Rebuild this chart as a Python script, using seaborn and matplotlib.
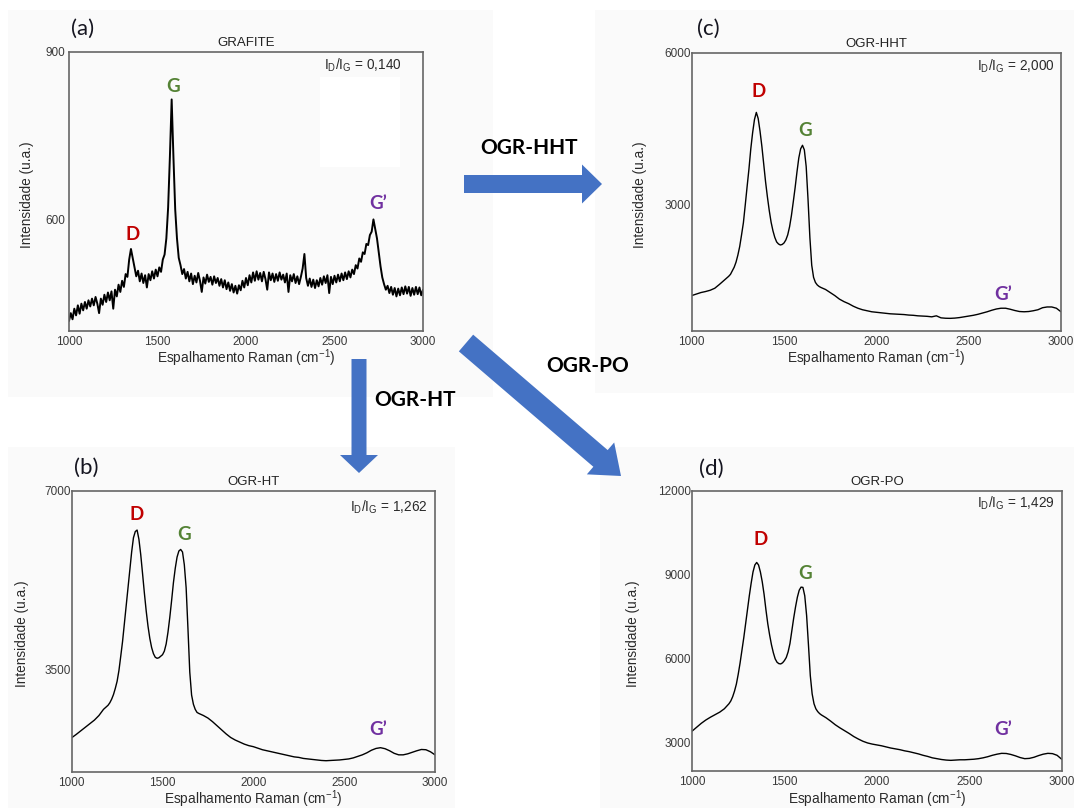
import numpy as np
import pandas as pd
import matplotlib
matplotlib.use("Agg")
import matplotlib.pyplot as plt
from matplotlib.patches import Rectangle, FancyArrow
import seaborn as sns

W, H = 1074, 808

# ---------------------------------------------------------------------------
# Raman shift grids (cm^-1)
shift_grafite = np.arange(1000, 3001, 10)
shift_ogr = np.concatenate([np.arange(1000, 1200, 25),
                            np.arange(1200, 1701, 10),
                            np.arange(1725, 3001, 25)])

# Intensities (u.a.)
int_grafite = [
    418, 432, 421, 440, 428, 446, 431, 449, 437, 452,
    440, 455, 444, 458, 446, 461, 449, 432, 458, 447,
    465, 452, 469, 455, 471, 440, 474, 462, 483, 470,
    490, 479, 502, 497, 528, 547, 531, 514, 498, 508,
    489, 503, 486, 500, 478, 502, 491, 507, 494, 510,
    498, 514, 506, 528, 537, 566, 621, 712, 815, 712,
    618, 566, 531, 518, 502, 511, 494, 506, 489, 503,
    484, 499, 487, 504, 490, 470, 496, 485, 501, 488,
    497, 483, 498, 486, 495, 481, 493, 478, 491, 475,
    487, 472, 484, 469, 481, 467, 482, 473, 490, 478,
    495, 482, 500, 487, 505, 490, 507, 492, 504, 489,
    506, 493, 474, 505, 491, 503, 488, 502, 490, 505,
    492, 501, 487, 503, 470, 500, 489, 502, 486, 498,
    484, 497, 512, 538, 495, 481, 494, 479, 492, 477,
    491, 480, 495, 483, 498, 486, 500, 468, 497, 484,
    499, 487, 501, 489, 503, 491, 505, 493, 507, 496,
    510, 502, 518, 512, 530, 524, 541, 538, 556, 554,
    572, 578, 600, 583, 566, 541, 516, 496, 484, 474,
    481, 468, 479, 465, 477, 462, 476, 464, 478, 466,
    480, 467, 479, 463, 477, 465, 479, 466, 478, 464,
    474,
]

int_ogr_ht = [
    2165, 2230, 2300, 2370, 2440, 2510, 2600, 2720,
    2800, 2850, 2920, 3010, 3130, 3270, 3480, 3760, 4050, 4400,
    4750, 5100, 5450, 5800, 6080, 6200, 6230, 6050, 5750, 5380,
    5000, 4650, 4350, 4110, 3930, 3810, 3740, 3720, 3730, 3760,
    3790, 3860, 4000, 4230, 4520, 4850, 5200, 5480, 5700, 5820,
    5850, 5800, 5550, 5100, 4300, 3450, 3000, 2820, 2720, 2660,
    2640,
    2600, 2550, 2480, 2400, 2320, 2240, 2170, 2120, 2080, 2040, 2010, 1990,
    1960, 1930, 1910, 1890, 1870, 1850, 1830, 1810, 1790, 1780, 1760, 1750,
    1740, 1730, 1720, 1715, 1720, 1725, 1730, 1740, 1750, 1770, 1800, 1830,
    1870, 1920, 1955, 1970, 1950, 1910, 1860, 1830, 1830, 1850, 1880, 1910,
    1935, 1930, 1890, 1830,
]

int_ogr_hht = [
    1200, 1230, 1260, 1280, 1305, 1345, 1420, 1500,
    1580, 1620, 1690, 1760, 1860, 2000, 2170, 2400, 2640, 2990,
    3350, 3700, 4100, 4420, 4680, 4820, 4700, 4450, 4150, 3800,
    3450, 3150, 2880, 2650, 2480, 2350, 2260, 2220, 2200, 2210,
    2240, 2300, 2400, 2560, 2780, 3050, 3330, 3640, 3920, 4100,
    4170, 4080, 3750, 3100, 2350, 1800, 1560, 1460, 1410, 1380,
    1360,
    1320, 1260, 1200, 1130, 1080, 1040, 990, 950, 920, 900, 880, 870,
    860, 850, 840, 835, 830, 825, 815, 810, 800, 795, 790, 780,
    800, 760, 752, 750, 755, 765, 780, 795, 810, 830, 855, 880,
    910, 935, 950, 950, 930, 905, 885, 880, 885, 900, 920, 960,
    975, 975, 950, 880,
]

int_ogr_po = [
    3420, 3560, 3700, 3820, 3920, 4010, 4100, 4220,
    4400, 4500, 4650, 4850, 5100, 5450, 5850, 6300, 6750, 7250,
    7750, 8250, 8700, 9100, 9350, 9440, 9350, 9100, 8750, 8300,
    7750, 7250, 6850, 6500, 6220, 6000, 5880, 5830, 5820, 5860,
    5940, 6050, 6250, 6550, 7000, 7450, 7850, 8200, 8450, 8560,
    8550, 8250, 7550, 6500, 5400, 4750, 4400, 4220, 4120, 4050,
    4000,
    3900, 3780, 3650, 3540, 3440, 3340, 3230, 3140, 3060, 3000, 2960, 2930,
    2900, 2860, 2820, 2790, 2760, 2720, 2690, 2650, 2610, 2560, 2520, 2470,
    2440, 2410, 2390, 2380, 2390, 2400, 2400, 2410, 2420, 2440, 2470, 2510,
    2560, 2600, 2630, 2625, 2590, 2540, 2480, 2440, 2450, 2490, 2550, 2600,
    2630, 2620, 2560, 2420,
]

titles = ["GRAFITE", "OGR-HT", "OGR-HHT", "OGR-PO"]
panel_letters = ["(a)", "(b)", "(c)", "(d)"]
ratio_values = ["0,140", "1,262", "2,000", "1,429"]
y_limits = [(400, 900), (1500, 7000), (500, 6000), (2000, 12000)]
y_ticks = [[600, 900], [3500, 7000], [3000, 6000], [3000, 6000, 9000, 12000]]
x_ticks = [1000, 1500, 2000, 2500, 3000]
peak_names = ["D", "G", "G\u2019"]
peak_colors = ["#C00000", "#548235", "#7030A0"]
# band label anchors (shift, intensity) for D, G, G'
peak_label_pos = [
    [(1362, 573), (1588, 839), (2746, 629)],
    [(1358, 6526), (1620, 6135), (2688, 2329)],
    [(1361, 5227), (1614, 4467), (2688, 1215)],
    [(1372, 10245), (1611, 9035), (2684, 3483)],
]
arrow_labels = ["OGR-HHT", "OGR-HT", "OGR-PO"]

spectra = [
    (shift_grafite, int_grafite),
    (shift_ogr, int_ogr_ht),
    (shift_ogr, int_ogr_hht),
    (shift_ogr, int_ogr_po),
]

# ---------------------------------------------------------------------------
sns.set_theme(style="white")
plt.rcParams["font.family"] = ["Liberation Sans", "DejaVu Sans"]
plt.rcParams["mathtext.fontset"] = "custom"
plt.rcParams["mathtext.rm"] = "Liberation Sans"
plt.rcParams["mathtext.it"] = "Liberation Sans:italic"
plt.rcParams["mathtext.bf"] = "Liberation Sans:bold"

fig = plt.figure(figsize=(W / 100, H / 100), dpi=100)
fig.patch.set_facecolor("white")


def px_box(left, top, right, bottom):
    return [left / W, 1 - bottom / H, (right - left) / W, (bottom - top) / H]


# light backdrop behind each panel
bg = fig.add_axes([0, 0, 1, 1], zorder=-5)
bg.set_xlim(0, W)
bg.set_ylim(H, 0)
bg.axis("off")
for x0, y0, x1, y1 in [(8, 10, 493, 397), (595, 10, 1074, 393),
                       (8, 447, 455, 808), (600, 447, 1074, 808)]:
    bg.add_patch(Rectangle((x0, y0), x1 - x0, y1 - y0,
                           facecolor="#fafafa", edgecolor="none"))

boxes = [px_box(69, 52, 423, 331), px_box(71.7, 490.7, 435, 771.7),
         px_box(691.7, 52.7, 1061, 331), px_box(692, 490.7, 1061.7, 771)]
ytick_pads = [3, 0.5, 0.5, 0.5]
ylabel_x = [-0.119, -0.138, -0.14, -0.159]
xlabel_y = [-0.097, -0.097, -0.097, -0.1]
ratio_xy = [(0.94, 0.953), (0.98, 0.942), (0.984, 0.95), (0.982, 0.956)]
line_widths = [1.4, 1.0, 1.0, 1.0]

axes = []
for i, (box, (sx, si)) in enumerate(zip(boxes, spectra)):
    ax = fig.add_axes(box)
    axes.append(ax)
    df = pd.DataFrame({"shift": sx, "intensity": si})
    sns.lineplot(data=df, x="shift", y="intensity", ax=ax, color="black",
                 linewidth=line_widths[i], estimator=None, sort=False)
    ax.set_xlim(1000, 3000)
    ax.set_ylim(*y_limits[i])
    ax.set_xticks(x_ticks)
    ax.set_yticks(y_ticks[i])
    ax.set_facecolor("none")
    ax.tick_params(axis="both", length=0, labelsize=8.5, colors="#3a3a3a")
    ax.tick_params(axis="y", pad=ytick_pads[i])
    ax.tick_params(axis="x", pad=3.5)
    for s in ax.spines.values():
        s.set_color("#666666")
        s.set_linewidth(1.2)
    ax.set_title(titles[i], fontsize=9.5, color="#222222", pad=4)
    ax.set_xlabel(r"Espalhamento Raman (cm$^{\mathregular{-1}}$)",
                  fontsize=9.8, color="#2a2a2a")
    ax.set_ylabel("Intensidade (u.a.)", fontsize=9.8, color="#2a2a2a")
    ax.xaxis.set_label_coords(0.5, xlabel_y[i])
    ax.xaxis.label.set_va("center")
    ax.yaxis.set_label_coords(ylabel_x[i], 0.49)
    ax.yaxis.label.set_va("center")
    ax.text(ratio_xy[i][0], ratio_xy[i][1],
            r"$\mathregular{I_D/I_G}$ = " + ratio_values[i],
            transform=ax.transAxes, ha="right", va="center",
            fontsize=9.8, color="#2a2a2a")
    for name, color, (px, py) in zip(peak_names, peak_colors, peak_label_pos[i]):
        ax.text(px, py, name, ha="center", va="center", color=color,
                fontsize=13.5, fontweight="bold", family=["Lato", "DejaVu Sans"])

# blank patch inside the graphite panel
axes[0].add_patch(Rectangle((0.709, 0.588), 0.226, 0.322, transform=axes[0].transAxes,
                            facecolor="white", edgecolor="none", zorder=0.5))

# overlay for arrows, panel letters and route labels
ov = fig.add_axes([0, 0, 1, 1], zorder=5)
ov.set_xlim(0, W)
ov.set_ylim(H, 0)
ov.axis("off")
ov.patch.set_alpha(0)

blue = "#4472C4"
ov.add_patch(FancyArrow(464, 184, 138, 0, width=18, head_width=39, head_length=20,
                        length_includes_head=True, color=blue, lw=0))
ov.add_patch(FancyArrow(359, 359, 0, 114, width=15, head_width=38, head_length=18,
                        length_includes_head=True, color=blue, lw=0))
ov.add_patch(FancyArrow(466, 343, 155, 133, width=22, head_width=42, head_length=27,
                        length_includes_head=True, color=blue, lw=0))

for label, (cx, cy) in zip(arrow_labels, [(529, 147.5), (415, 400), (587.5, 366.5)]):
    ov.text(cx, cy, label, ha="center", va="center", fontsize=15,
            fontweight="bold", color="black", family=["Lato", "DejaVu Sans"])

for letter, (cx, cy) in zip(panel_letters, [(83, 29), (86, 468), (708, 29), (711, 469)]):
    ov.text(cx, cy, letter, ha="center", va="center", fontsize=16,
            color="#151520", family=["Lato", "DejaVu Sans"])

fig.savefig("out.png", dpi=100)
